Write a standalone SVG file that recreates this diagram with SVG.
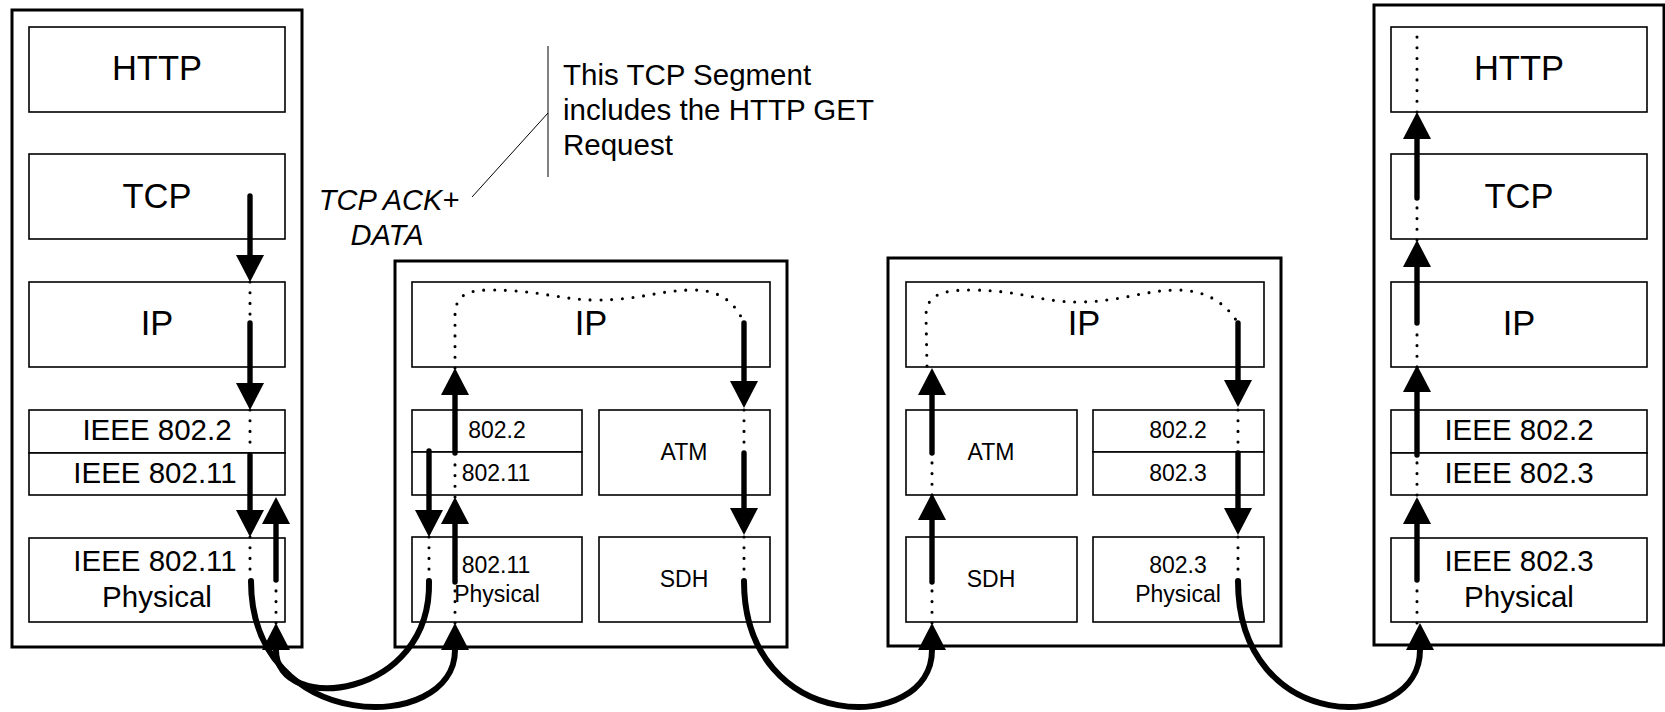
<svg xmlns="http://www.w3.org/2000/svg" width="1665" height="712" viewBox="0 0 1665 712">
<style>
.outer{fill:#fff;stroke:#000;stroke-width:3}
.inner{fill:#fff;stroke:#000;stroke-width:1.6}
.t{font-family:"Liberation Sans",Arial,sans-serif;fill:#000;text-anchor:middle}
.big{font-size:34.5px}
.mid{font-size:29.5px}
.sm{font-size:23px}
.ann{font-family:"Liberation Sans",Arial,sans-serif;font-size:29.5px;fill:#000}
.it{font-family:"Liberation Sans",Arial,sans-serif;font-size:29px;font-style:italic;fill:#000;text-anchor:middle}
.thick{fill:none;stroke:#000;stroke-width:5.4;stroke-linecap:round;marker-end:url(#ah)}
.curve{fill:none;stroke:#000;stroke-width:6;stroke-linecap:round;marker-end:url(#ah)}
.dot{fill:none;stroke:#000;stroke-width:3.1;stroke-linecap:round;stroke-dasharray:0 10.7}
.thin{fill:none;stroke:#000;stroke-width:1}
</style>
<defs>
<marker id="ah" markerUnits="userSpaceOnUse" viewBox="0 0 27 28" markerWidth="27" markerHeight="28" refX="0" refY="14" orient="auto"><path d="M0,0 L27,14 L0,28 z" fill="#000"/></marker>
</defs>
<rect width="1665" height="712" fill="#fff"/>

<g id="host-client">
<rect class="outer" x="12" y="10" width="290" height="637"/>
<rect class="inner" x="29" y="27" width="256" height="85"/>
<text class="t big" x="157" y="80">HTTP</text>
<rect class="inner" x="29" y="154" width="256" height="85"/>
<text class="t big" x="157" y="208">TCP</text>
<rect class="inner" x="29" y="282" width="256" height="85"/>
<text class="t big" x="157" y="335">IP</text>
<rect class="inner" x="29" y="410" width="256" height="43"/>
<text class="t mid" x="157" y="440">IEEE 802.2</text>
<rect class="inner" x="29" y="453" width="256" height="42"/>
<text class="t mid" x="155" y="483">IEEE 802.11</text>
<rect class="inner" x="29" y="538" width="256" height="84"/>
<text class="t mid" x="155" y="571">IEEE 802.11</text>
<text class="t mid" x="157" y="607">Physical</text>
</g>

<g id="router-1">
<rect class="outer" x="395" y="261" width="392" height="386"/>
<rect class="inner" x="412" y="282" width="358" height="85"/>
<text class="t big" x="591" y="335">IP</text>
<rect class="inner" x="412" y="410" width="170" height="42"/>
<text class="t sm" x="497" y="438">802.2</text>
<rect class="inner" x="412" y="452" width="170" height="43"/>
<text class="t sm" x="496" y="481">802.11</text>
<rect class="inner" x="599" y="410" width="171" height="85"/>
<text class="t sm" x="684" y="460">ATM</text>
<rect class="inner" x="412" y="537" width="170" height="85"/>
<text class="t sm" x="496" y="573">802.11</text>
<text class="t sm" x="497" y="602">Physical</text>
<rect class="inner" x="599" y="537" width="171" height="85"/>
<text class="t sm" x="684" y="587">SDH</text>
</g>

<g id="router-2">
<rect class="outer" x="888" y="258" width="393" height="388"/>
<rect class="inner" x="906" y="282" width="358" height="85"/>
<text class="t big" x="1084" y="335">IP</text>
<rect class="inner" x="906" y="410" width="171" height="85"/>
<text class="t sm" x="991" y="460">ATM</text>
<rect class="inner" x="1093" y="410" width="171" height="42"/>
<text class="t sm" x="1178" y="438">802.2</text>
<rect class="inner" x="1093" y="452" width="171" height="43"/>
<text class="t sm" x="1178" y="481">802.3</text>
<rect class="inner" x="906" y="537" width="171" height="85"/>
<text class="t sm" x="991" y="587">SDH</text>
<rect class="inner" x="1093" y="537" width="171" height="85"/>
<text class="t sm" x="1178" y="573">802.3</text>
<text class="t sm" x="1178" y="602">Physical</text>
</g>

<g id="host-server">
<rect class="outer" x="1374" y="5" width="290" height="640"/>
<rect class="inner" x="1391" y="27" width="256" height="85"/>
<text class="t big" x="1519" y="80">HTTP</text>
<rect class="inner" x="1391" y="154" width="256" height="85"/>
<text class="t big" x="1519" y="208">TCP</text>
<rect class="inner" x="1391" y="282" width="256" height="85"/>
<text class="t big" x="1519" y="335">IP</text>
<rect class="inner" x="1391" y="410" width="256" height="43"/>
<text class="t mid" x="1519" y="440">IEEE 802.2</text>
<rect class="inner" x="1391" y="453" width="256" height="42"/>
<text class="t mid" x="1519" y="483">IEEE 802.3</text>
<rect class="inner" x="1391" y="538" width="256" height="84"/>
<text class="t mid" x="1519" y="571">IEEE 802.3</text>
<text class="t mid" x="1519" y="607">Physical</text>
</g>

<g id="annotation">
<line class="thin" x1="548" y1="46" x2="548" y2="177"/>
<line class="thin" x1="548" y1="113" x2="472" y2="197"/>
<text class="ann" x="563" y="85">This TCP Segment</text>
<text class="ann" x="563" y="120">includes the HTTP GET</text>
<text class="ann" x="563" y="155">Request</text>
<text class="it" x="389" y="210">TCP ACK+</text>
<text class="it" x="387" y="245">DATA</text>
</g>

<g id="connectors">
<line class="thick" x1="250" y1="196" x2="250" y2="255"/>
<line class="dot" x1="250" y1="282" x2="250" y2="318"/>
<line class="thick" x1="250" y1="323" x2="250" y2="383"/>
<line class="dot" x1="250" y1="410" x2="250" y2="444"/>
<line class="thick" x1="250" y1="455" x2="250" y2="510"/>
<line class="dot" x1="250" y1="537" x2="250" y2="572"/>
<path class="curve" d="M251,581 C251,735 455,735 455,650"/>
<line class="dot" x1="276" y1="623" x2="276" y2="588"/>
<line class="thick" x1="276" y1="580" x2="276" y2="524"/>
<line class="dot" x1="455" y1="623" x2="455" y2="588"/>
<line class="thick" x1="455" y1="582" x2="455" y2="524"/>
<line class="dot" x1="455" y1="497" x2="455" y2="460"/>
<line class="thick" x1="455" y1="453" x2="455" y2="395"/>
<path class="dot" d="M455,368 L455,316 C455,296 466,290 490,290 C540,290 560,300 597,300 C640,300 660,290 693,290 C720,290 735,302 744,323"/>
<line class="thick" x1="744" y1="323" x2="744" y2="381"/>
<line class="dot" x1="744" y1="410" x2="744" y2="444"/>
<line class="thick" x1="744" y1="453" x2="744" y2="508"/>
<line class="dot" x1="744" y1="537" x2="744" y2="572"/>
<path class="curve" d="M744,581 C744,735 932,735 932,650"/>
<line class="thick" x1="429" y1="451" x2="429" y2="510"/>
<line class="dot" x1="429" y1="537" x2="429" y2="572"/>
<path class="curve" d="M429,581 C432,700 276,715 276,650"/>
<line class="dot" x1="932" y1="623" x2="932" y2="588"/>
<line class="thick" x1="932" y1="582" x2="932" y2="520"/>
<line class="dot" x1="932" y1="495" x2="932" y2="460"/>
<line class="thick" x1="932" y1="453" x2="932" y2="395"/>
<path class="dot" d="M927,366 L926,316 C926,296 940,290 970,290 C1020,290 1040,302 1077,302 C1120,302 1145,290 1177,290 C1205,290 1225,302 1238,323"/>
<line class="thick" x1="1238" y1="323" x2="1238" y2="380"/>
<line class="dot" x1="1238" y1="410" x2="1238" y2="444"/>
<line class="thick" x1="1238" y1="453" x2="1238" y2="508"/>
<line class="dot" x1="1238" y1="537" x2="1238" y2="572"/>
<path class="curve" d="M1238,581 C1238,735 1420,735 1420,650"/>
<line class="dot" x1="1417" y1="623" x2="1417" y2="588"/>
<line class="thick" x1="1417" y1="580" x2="1417" y2="524"/>
<line class="dot" x1="1417" y1="495" x2="1417" y2="460"/>
<line class="thick" x1="1417" y1="455" x2="1417" y2="392"/>
<line class="dot" x1="1417" y1="367" x2="1417" y2="330"/>
<line class="thick" x1="1417" y1="323" x2="1417" y2="267"/>
<line class="dot" x1="1417" y1="240" x2="1417" y2="204"/>
<line class="thick" x1="1417" y1="198" x2="1417" y2="139"/>
<line class="dot" x1="1417" y1="112" x2="1417" y2="27"/>
</g>
</svg>
